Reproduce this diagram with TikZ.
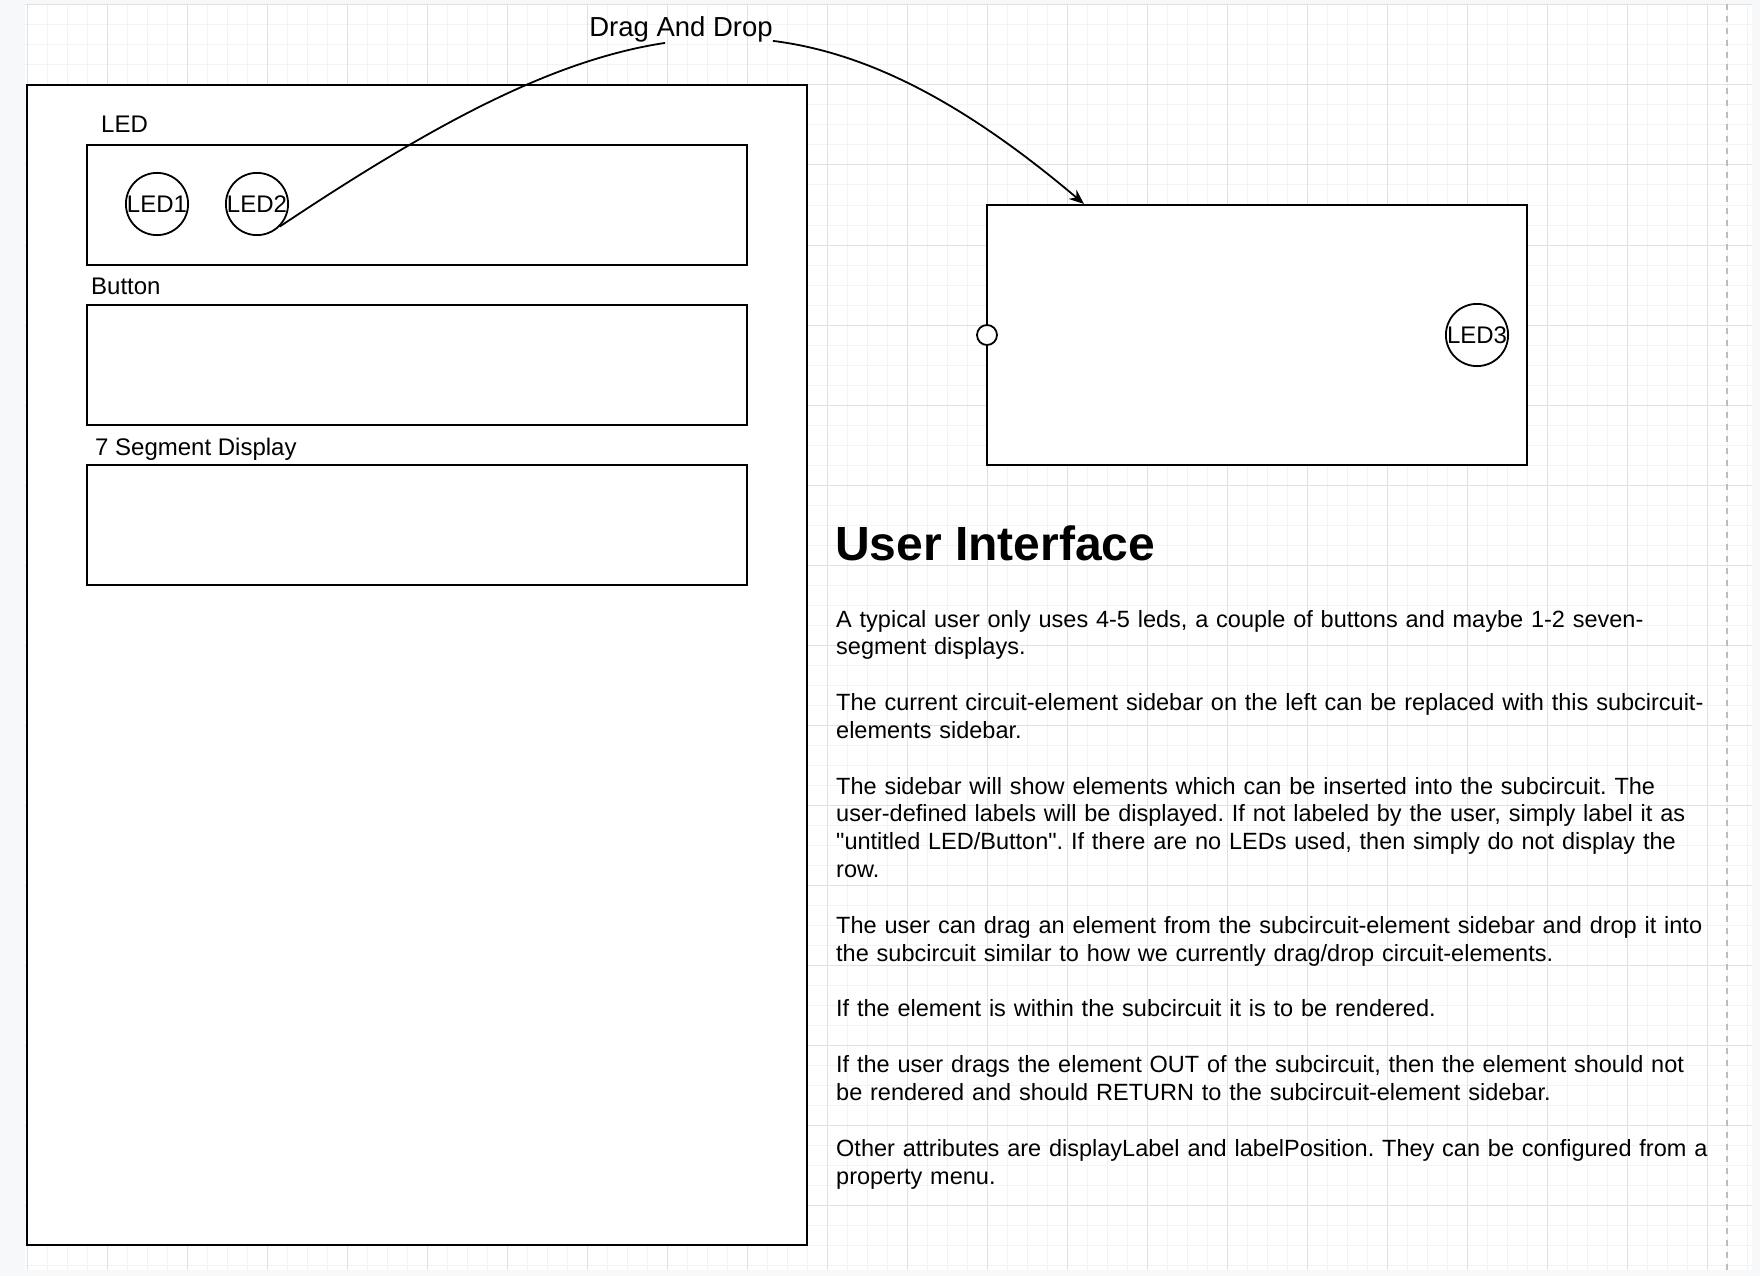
\documentclass[tikz,border=0pt]{standalone}
\usepackage{fontspec}
\setmainfont{Liberation Sans}[Ligatures=TeXOff]
\usetikzlibrary{arrows.meta}
\frenchspacing

\definecolor{pagegray}{HTML}{F7F8FA}
\definecolor{minorgrid}{HTML}{F3F3F3}
\definecolor{majorgrid}{HTML}{E1E1E1}
\definecolor{guide}{HTML}{BDBDBD}

\begin{document}
\begin{tikzpicture}[
    x=1pt, y=-1pt,
    every node/.style={font=\fontsize{24}{27.85}\selectfont, inner sep=0pt},
    panel/.style={draw, line width=2pt, fill=white},
    led/.style={circle, draw, line width=1.8pt, fill=white, minimum size=60pt},
    port/.style={circle, draw, line width=1.8pt, fill=white, minimum size=20pt},
    rowlabel/.style={anchor=base west},
    link/.style={line width=1.8pt},
    >={Stealth[length=15pt, width=12pt]}
]
    \useasboundingbox (0,0) rectangle (1760,1276);
    \fill[pagegray] (0,0) rectangle (1760,1276);
    \fill[white] (25,4) rectangle (1752,1270);
    \foreach \gx in {27,47,...,1747} \draw[minorgrid, line width=1pt] (\gx,4) -- (\gx,1270);
    \foreach \gy in {5,25,...,1265} \draw[minorgrid, line width=1pt] (25,\gy) -- (1752,\gy);
    \foreach \gx in {27,107,...,1747} \draw[majorgrid, line width=1pt] (\gx,4) -- (\gx,1270);
    \foreach \gy in {5,85,...,1265} \draw[majorgrid, line width=1pt] (25,\gy) -- (1752,\gy);
    \draw[guide, line width=2pt, dash pattern=on 6pt off 6pt] (1727,4) -- (1727,1270);

    \node[panel, minimum width=780pt, minimum height=1160pt] (sidebar) at (417,665) {};
    \node[rowlabel] (ledlbl) at (101,133) {LED};
    \node[panel, minimum width=660pt, minimum height=120pt] (ledrow) at (417,205) {};
    \node[rowlabel] (btnlbl) at (91,294) {Button};
    \node[panel, minimum width=660pt, minimum height=120pt] (btnrow) at (417,365) {};
    \node[rowlabel] (seglbl) at (95,455) {7 Segment Display};
    \node[panel, minimum width=660pt, minimum height=120pt] (segrow) at (417,525) {};
    \node[led] (led1) at (157,204) {LED1};
    \node[led] (led2) at (257,204) {LED2};

    \node[panel, minimum width=540pt, minimum height=260pt] (sub) at (1257,335) {};
    \node[port] (pin) at (987,335) {};
    \node[led] (led3) at (1477,335) {LED3};

    \node[font=\fontsize{27.5}{32}\selectfont, anchor=base] (drag) at (681,37) {Drag And Drop};
    \draw[link] (led2.-45) .. controls (432,125) and (552,60) .. ([xshift=76pt]drag.south west);
    \draw[link, ->] ([yshift=2pt]drag.south east) .. controls (870,53) and (967,105) .. ([xshift=98pt]sub.north west);

    \node[anchor=base west, font=\fontsize{48}{56}\selectfont\bfseries] (title) at (835,560) {User Interface};
    \node[anchor=base west, align=left, text width=940pt, font=\fontsize{23.5}{27.85}\selectfont] (notes) at (836,627) {A typical user only uses 4-5 leds, a couple of buttons and maybe 1-2 seven-\\
segment displays.\\[27.85pt]
The current circuit-element sidebar on the left can be replaced with this subcircuit-\\
elements sidebar.\\[27.85pt]
The sidebar will show elements which can be inserted into the subcircuit. The\\
user-defined labels will be displayed. If not labeled by the user, simply label it as\\
"untitled LED/Button". If there are no LEDs used, then simply do not display the\\
row.\\[27.85pt]
The user can drag an element from the subcircuit-element sidebar and drop it into\\
the subcircuit similar to how we currently drag/drop circuit-elements.\\[27.85pt]
If the element is within the subcircuit it is to be rendered.\\[27.85pt]
If the user drags the element OUT of the subcircuit, then the element should not\\
be rendered and should RETURN to the subcircuit-element sidebar.\\[27.85pt]
Other attributes are displayLabel and labelPosition. They can be configured from a\\
property menu.};
\end{tikzpicture}
\end{document}
